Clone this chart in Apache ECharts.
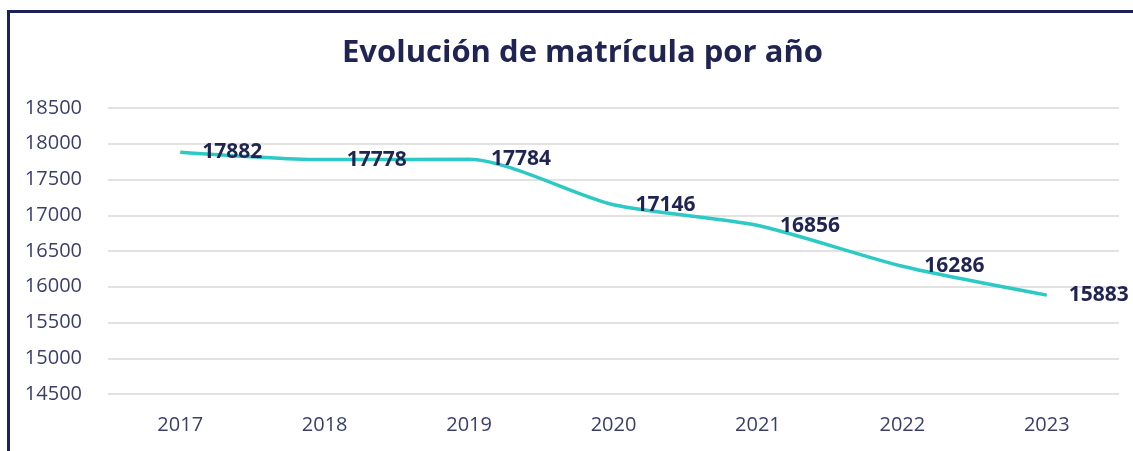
<!DOCTYPE html>
<html>
<head>
<meta charset="utf-8">
<script src="https://cdn.jsdelivr.net/npm/echarts@6/dist/echarts.min.js"></script>
<style>
  html, body { margin: 0; padding: 0; background: #fff; }
  #frame {
    position: absolute; left: 7px; top: 10px; right: 0; bottom: 0;
    border-left: 3px solid #1c2254; border-top: 3px solid #1c2254;
  }
  #chart { position: absolute; left: 0; top: 0; width: 1133px; height: 451px; }
</style>
</head>
<body>
<div id="frame"></div>
<div id="chart"></div>
<script>
  const years = ['2017', '2018', '2019', '2020', '2021', '2022', '2023'];
  const enrollment = [17882, 17778, 17784, 17146, 16856, 16286, 15883];
  const yMin = 14500;
  const yMax = 18500;
  const yStep = 500;

  const textColor = '#3a3e6a';
  const myChart = echarts.init(document.getElementById('chart'));
  myChart.setOption({
    backgroundColor: 'transparent',
    animation: false,
    title: {
      text: 'Evolución de matrícula por año',
      left: 337,
      top: 33,
      textStyle: {
        fontFamily: 'Open Sans',
        fontWeight: 'bold',
        fontSize: 31,
        color: '#1f2452'
      }
    },
    grid: {
      left: 108,
      right: 14,
      top: 108,
      bottom: 57
    },
    xAxis: {
      type: 'category',
      data: years,
      boundaryGap: true,
      axisLine: { show: false },
      axisTick: { show: false },
      axisLabel: {
        margin: 21,
        fontFamily: 'Open Sans',
        fontSize: 20,
        color: textColor
      }
    },
    yAxis: {
      type: 'value',
      min: yMin,
      max: yMax,
      interval: yStep,
      axisLine: { show: false },
      axisTick: { show: false },
      axisLabel: {
        margin: 26,
        fontFamily: 'Open Sans',
        fontSize: 20,
        color: textColor,
        formatter: (v) => String(v)
      },
      splitLine: {
        lineStyle: { color: '#d9d9d9', width: 1.5 }
      }
    },
    series: [{
      type: 'line',
      data: enrollment,
      smooth: 0.25,
      symbol: 'circle',
      symbolSize: 2,
      showSymbol: true,
      itemStyle: { color: 'transparent', borderWidth: 0 },
      lineStyle: { color: '#2dc9c4', width: 3.5 },
      label: {
        show: true,
        position: 'right',
        distance: 21,
        offset: [0, 3],
        fontFamily: 'Open Sans',
        fontWeight: 'bold',
        fontSize: 21,
        color: '#1f2452'
      },
      labelLayout: { hideOverlap: false }
    }]
  });
</script>
</body>
</html>
